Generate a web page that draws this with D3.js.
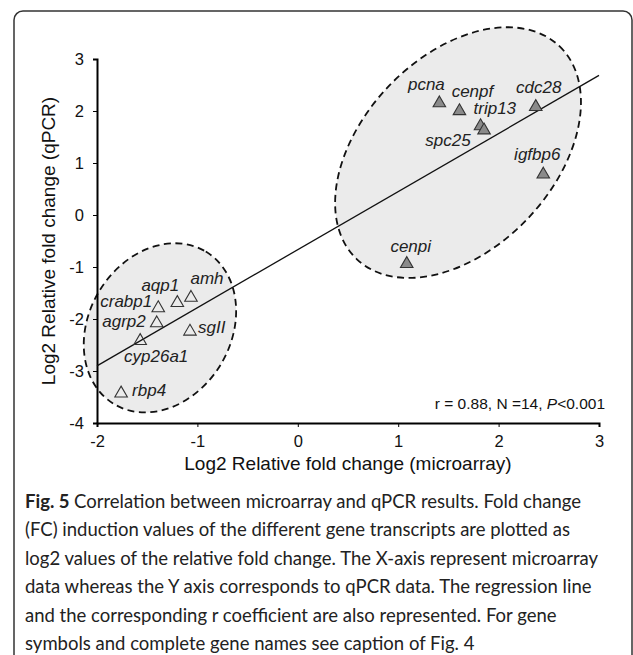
<!DOCTYPE html>
<html>
<head>
<meta charset="utf-8">
<script src="https://cdn.jsdelivr.net/npm/d3@7"></script>
<style>
  body { margin: 0; background: #fff; }
  svg { display: block; }
</style>
</head>
<body>
<div id="chart"></div>
<script>
// gene names, log2 fold change from microarray (x) and qPCR (y)
var genes      = ["pcna", "cenpf", "cdc28", "trip13", "spc25", "igfbp6", "cenpi",
                  "amh", "aqp1", "crabp1", "agrp2", "sgII", "cyp26a1", "rbp4"];
var microarray = [1.41, 1.61, 2.37, 1.82, 1.855, 2.445, 1.085,
                  -1.064, -1.20, -1.39, -1.405, -1.074, -1.57, -1.76];
var qpcr       = [2.15, 2.00, 2.08, 1.71, 1.63, 0.78, -0.94,
                  -1.59, -1.69, -1.79, -2.08, -2.24, -2.42, -3.43];
var regulation = ["up", "up", "up", "up", "up", "up", "up",
                  "down", "down", "down", "down", "down", "down", "down"];

var xTicks = [-2, -1, 0, 1, 2, 3];
var yTicks = [-4, -3, -2, -1, 0, 1, 2, 3];

// the two dashed groups (centre in data units)
var groupNames   = ["up", "down"];
var groupCenterX = [1.596, -1.373];
var groupCenterY = [1.20, -2.17];

var statsText = "r = 0.88, N =14, ";
var captionLines = [
  "Correlation between microarray and qPCR results. Fold change",
  "(FC) induction values of the different gene transcripts are plotted as",
  "log2 values of the relative fold change. The X-axis represent microarray",
  "data whereas the Y axis corresponds to qPCR data. The regression line",
  "and the corresponding r coefficient are also represented. For gene",
  "symbols and complete gene names see caption of Fig. 4"
];

// ---- layout (px) ----
var W = 633, H = 655;
var plotLeft = 97, plotRight = 599, plotTop = 59, plotBottom = 423;

// ellipse shapes in px: rx, ry, rotation
var ellipseShape = { up: [147, 96, -46.4], down: [89, 71, -59] };

// label placement relative to each point: [dx, dy, anchor]
var labelPos = {
  pcna: [-13, -13, "middle"], cenpf: [13, -14, "middle"], cdc28: [3, -14, "middle"],
  trip13: [-7, -12, "start"], spc25: [-36, 16, "middle"], igfbp6: [-6, -14, "middle"],
  cenpi: [4, -12, "middle"], amh: [16, -14, "middle"], aqp1: [-17, -12, "middle"],
  crabp1: [-6, -1, "end"], agrp2: [-11, 4, "end"], sgII: [8, 2, "start"],
  cyp26a1: [16, 21, "middle"], rbp4: [11, 3, "start"]
};

var data = genes.map(function(g, i) {
  return { gene: g, x: microarray[i], y: qpcr[i], reg: regulation[i] };
});

var svg = d3.select("#chart").append("svg")
  .attr("width", W).attr("height", H);

// outer frame (runs off the right and bottom edge)
svg.append("rect")
  .attr("x", 14).attr("y", 11)
  .attr("width", 618).attr("height", 700)
  .attr("rx", 9).attr("ry", 9)
  .attr("fill", "none").attr("stroke", "#333").attr("stroke-width", 1.5);

var x = d3.scaleLinear().domain([-2, 3]).range([plotLeft, plotRight]);
var y = d3.scaleLinear().domain([-4, 3]).range([plotBottom, plotTop]);

var font = "'Liberation Sans', Arial, Helvetica, sans-serif";
var plainNum = function(d) { return String(d); };   // hyphen minus, no decimals

// ellipses behind everything
groupNames.forEach(function(g, i) {
  var s = ellipseShape[g];
  svg.append("ellipse")
    .attr("transform", "translate(" + x(groupCenterX[i]) + "," + y(groupCenterY[i]) + ") rotate(" + s[2] + ")")
    .attr("rx", s[0]).attr("ry", s[1])
    .attr("fill", "#ebebeb")
    .attr("stroke", "#111").attr("stroke-width", 1.8)
    .attr("stroke-dasharray", "7,4.5");
});

// axes
var xAxis = svg.append("g")
  .attr("transform", "translate(0," + plotBottom + ")")
  .call(d3.axisBottom(x).tickValues(xTicks).tickFormat(plainNum)
        .tickSize(4).tickSizeOuter(4).tickPadding(8));
var yAxis = svg.append("g")
  .attr("transform", "translate(" + plotLeft + ",0)")
  .call(d3.axisLeft(y).tickValues(yTicks).tickFormat(plainNum)
        .tickSize(4).tickSizeOuter(4).tickPadding(9));

[xAxis, yAxis].forEach(function(a) {
  a.select(".domain").attr("stroke", "#000").attr("stroke-width", 2);
  a.selectAll(".tick line").attr("stroke", "#000").attr("stroke-width", 1);
  a.selectAll(".tick text")
    .attr("font-family", font).attr("font-size", "16.5px").attr("fill", "#111");
});

// axis titles
svg.append("text")
  .attr("x", (plotLeft + plotRight) / 2).attr("y", 470)
  .attr("text-anchor", "middle")
  .attr("font-family", font).attr("font-size", "19px").attr("fill", "#111")
  .text("Log2 Relative fold change (microarray)");

svg.append("text")
  .attr("transform", "translate(55," + (plotTop + plotBottom) / 2 + ") rotate(-90)")
  .attr("text-anchor", "middle")
  .attr("font-family", font).attr("font-size", "19px").attr("fill", "#111")
  .text("Log2 Relative fold change (qPCR)");

// regression line (least squares from the points)
var mx = d3.mean(microarray), my = d3.mean(qpcr);
var sxy = d3.sum(data, function(d) { return (d.x - mx) * (d.y - my); });
var sxx = d3.sum(data, function(d) { return (d.x - mx) * (d.x - mx); });
var slope = sxy / sxx, icpt = my - slope * mx;
var fitX = x.domain();

svg.append("line")
  .attr("x1", x(fitX[0])).attr("y1", y(icpt + slope * fitX[0]))
  .attr("x2", x(fitX[1])).attr("y2", y(icpt + slope * fitX[1]))
  .attr("stroke", "#111").attr("stroke-width", 1.3);

// triangles
var tri = d3.symbol().type(d3.symbolTriangle).size(68);
svg.selectAll(".pt")
  .data(data)
  .enter().append("path")
  .attr("class", "pt")
  .attr("transform", function(d) { return "translate(" + x(d.x) + "," + y(d.y) + ")"; })
  .attr("d", tri)
  .attr("fill", function(d) { return d.reg == "up" ? "#8a8a8a" : "none"; })
  .attr("stroke", "#333").attr("stroke-width", 1.1);

// gene labels
svg.selectAll(".lbl")
  .data(data)
  .enter().append("text")
  .attr("class", "lbl")
  .attr("x", function(d) { return x(d.x) + labelPos[d.gene][0]; })
  .attr("y", function(d) { return y(d.y) + labelPos[d.gene][1]; })
  .attr("text-anchor", function(d) { return labelPos[d.gene][2]; })
  .attr("font-family", font).attr("font-style", "italic")
  .attr("font-size", "17px").attr("fill", "#222")
  .text(function(d) { return d.gene; });

// stats
var st = svg.append("text")
  .attr("x", 605).attr("y", 409)
  .attr("text-anchor", "end")
  .attr("font-family", font).attr("font-size", "15.5px").attr("fill", "#111");
st.append("tspan").text(statsText);
st.append("tspan").attr("font-style", "italic").text("P");
st.append("tspan").text("<0.001");

// caption
captionLines.forEach(function(line, i) {
  var t = svg.append("text")
    .attr("x", 25).attr("y", 508 + i * 28.4)
    .attr("font-family", "Lato, 'Open Sans', sans-serif")
    .attr("font-size", "18.5px").attr("fill", "#222");
  if (i == 0) {
    t.append("tspan").attr("font-weight", "bold").text("Fig. 5 ");
  }
  t.append("tspan").text(line);
});
</script>
</body>
</html>
